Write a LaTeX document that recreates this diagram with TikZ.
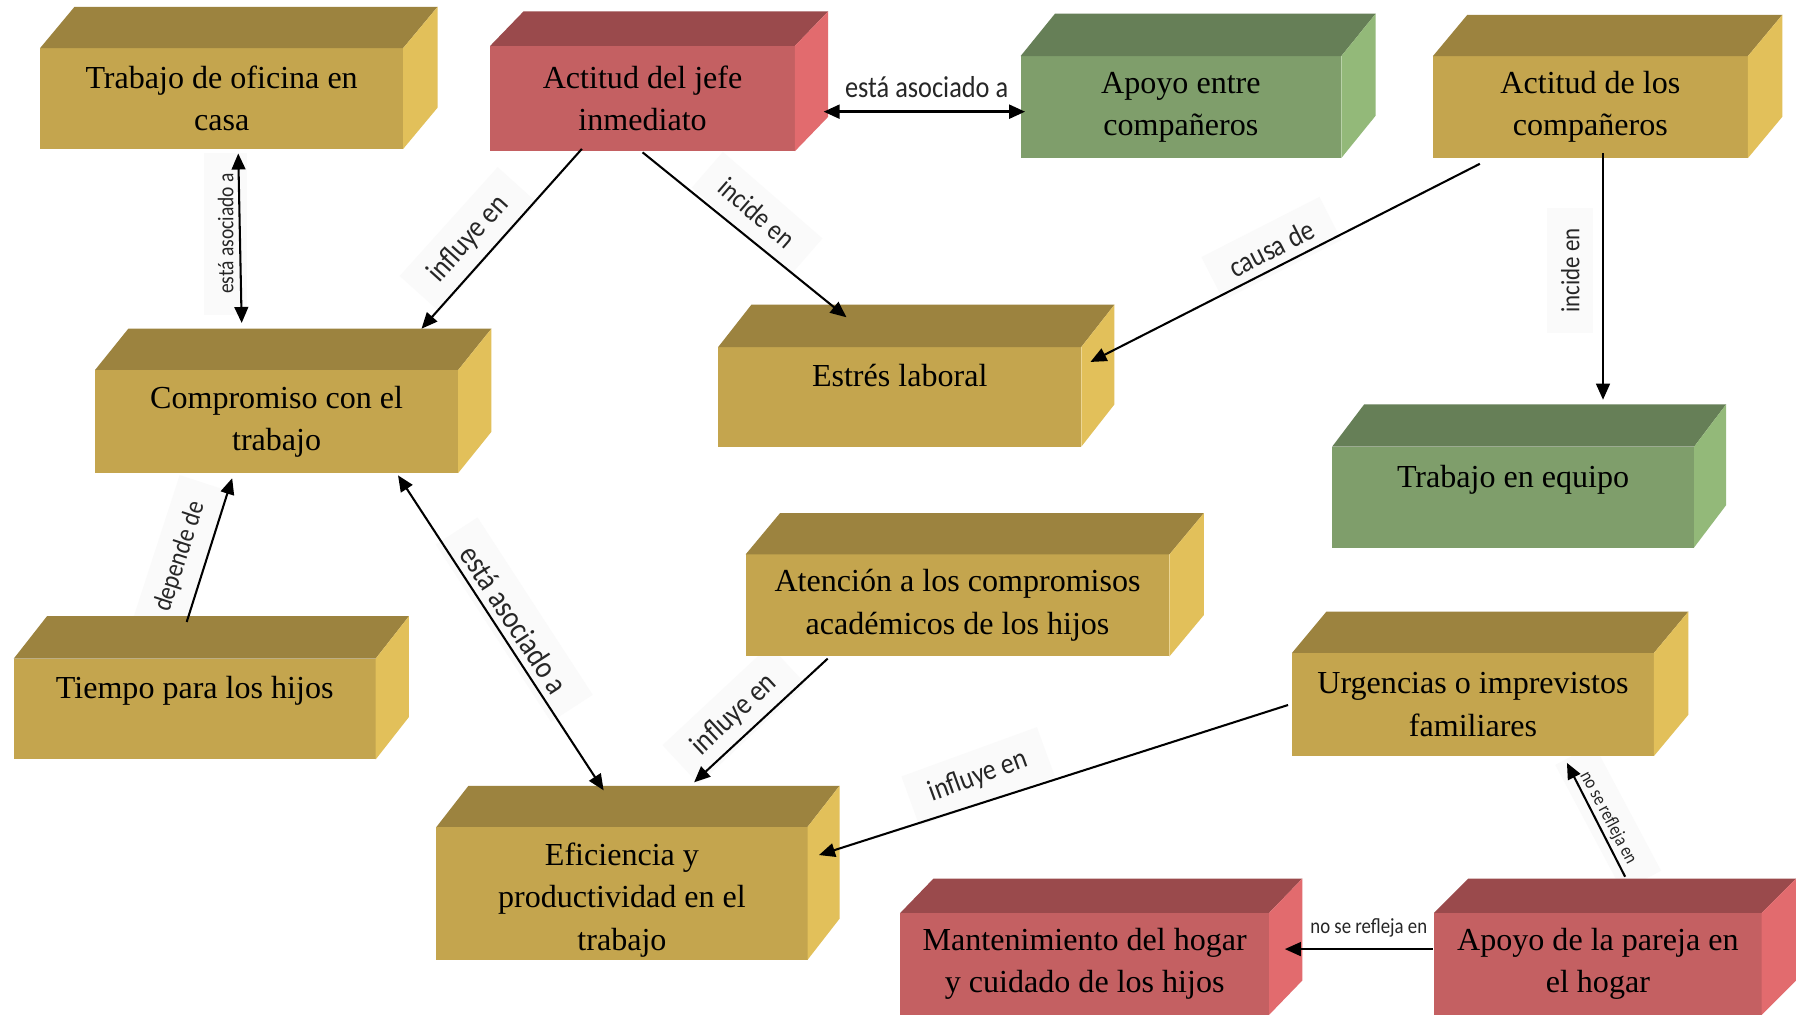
\documentclass[tikz,border=0pt]{standalone}
\usepackage{fontspec}
\setmainfont{Liberation Serif}
\newfontfamily\lblfont{Carlito}
\usepackage{graphicx}
\usetikzlibrary{arrows.meta,calc}
\definecolor{goldF}{HTML}{C4A54E}
\definecolor{goldT}{HTML}{9C833F}
\definecolor{goldS}{HTML}{E2C05A}
\definecolor{redF}{HTML}{C46062}
\definecolor{redT}{HTML}{9A4A4C}
\definecolor{redS}{HTML}{E26B6E}
\definecolor{greenF}{HTML}{7F9E6B}
\definecolor{greenT}{HTML}{667F57}
\definecolor{greenS}{HTML}{93B979}
\definecolor{lblbg}{HTML}{FAFAFA}
\newcommand\cubefaces[4]{%
  \fill[#2T] (#1.north west) -- ++(#3,-#4) -- ($(#1.north east)+(#3,-#4)$) -- (#1.north east) -- cycle;
  \fill[#2S] (#1.north east) -- ++(#3,-#4) -- ($(#1.south east)+(#3,-#4)$) -- (#1.south east) -- cycle;}
\newcommand\lt[2]{\fontsize{#1}{#1}\selectfont\scalebox{1}[1.15]{#2}}
\tikzset{
  face/.style={inner sep=0pt, outer sep=0pt, align=center, text=black,
    font=\fontsize{28}{37}\selectfont},
  goldbox/.style={face, fill=goldF},
  redbox/.style={face, fill=redF},
  greenbox/.style={face, fill=greenF},
  conn/.style={line width=1.8pt, -{Triangle[length=14pt,width=12pt]}},
  biconn/.style={line width=1.8pt, {Triangle[length=14pt,width=12pt]}-{Triangle[length=14pt,width=12pt]}},
  lbl/.style={inner xsep=18pt, inner ysep=12pt, fill=lblbg, text=black!85, font=\lblfont},
}
\begin{document}
\begin{tikzpicture}[x=1pt,y={(0,-1pt)}]
\useasboundingbox (0,0) rectangle (1568,886);
\fill[white] (0,0) rectangle (1568,886);
\begin{scope}
\clip (0,0) rectangle (1568,886);
% labels (drawn first, connectors pass over them)
\node[lbl, rotate=90] (la) at (197,204) {\lt{17}{está asociado a}};
\node[lbl, rotate=48] (lb) at (409,209) {\lt{23}{influye en}};
\node[lbl, rotate=-41] (lc) at (661,186) {\lt{21.5}{incide en}};
\node[lbl, fill=none] (ld) at (809,76) {\lt{23}{está asociado a}};
\node[lbl, rotate=27] (le) at (1110,217) {\lt{22.5}{causa de}};
\node[lbl, rotate=90] (lf) at (1371,236) {\lt{20}{incide en}};
\node[lbl, rotate=72] (lg) at (157,486) {\lt{20.5}{depende de}};
\node[lbl, rotate=-57] (lh) at (449,541) {\lt{24}{está asociado a}};
\node[lbl, rotate=43] (li) at (641,624) {\lt{23}{influye en}};
\node[lbl, rotate=20] (lj) at (854,678) {\lt{22.5}{influye en}};
\node[lbl, rotate=-62] (lk) at (1404,714) {\lt{14.3}{no se refleja en}};
\node[lbl, fill=none] (ll) at (1195,810) {\lt{16.4}{no se refleja en}};
% boxes
\node[goldbox, minimum width=317pt, minimum height=88pt] (oficina) at (193.5,86) {Trabajo de oficina en\\casa};
\cubefaces{oficina}{gold}{30}{36}
\node[redbox, minimum width=266pt, minimum height=92pt] (jefe) at (561,86) {Actitud del jefe\\inmediato};
\cubefaces{jefe}{red}{29}{30}
\node[greenbox, minimum width=280pt, minimum height=89pt] (apoyo) at (1031,93.5) {Apoyo entre\\compañeros};
\cubefaces{apoyo}{green}{30}{37}
\node[goldbox, minimum width=275pt, minimum height=89pt] (actcomp) at (1388.5,93.5) {Actitud de los\\compañeros};
\cubefaces{actcomp}{gold}{30}{36}
\node[goldbox, minimum width=317pt, minimum height=90pt] (compromiso) at (241.5,368) {Compromiso con el\\trabajo};
\cubefaces{compromiso}{gold}{29}{36}
\node[goldbox, minimum width=317pt, minimum height=87pt] (estres) at (785.5,346.5) {Estrés laboral\\\mbox{}};
\cubefaces{estres}{gold}{29}{37}
\node[greenbox, minimum width=316pt, minimum height=88pt] (equipo) at (1321,434) {Trabajo en equipo\\\mbox{}};
\cubefaces{equipo}{green}{28}{37}
\node[goldbox, minimum width=370pt, minimum height=89pt] (atencion) at (836,528.5) {Atención a los compromisos\\académicos de los hijos};
\cubefaces{atencion}{gold}{30}{36}
\node[goldbox, minimum width=316pt, minimum height=88pt] (tiempo) at (170,619) {Tiempo para los hijos\\\mbox{}};
\cubefaces{tiempo}{gold}{29}{37}
\node[goldbox, minimum width=324pt, minimum height=116pt] (eficiencia) at (543,780) {\raisebox{-5pt}[\height][\depth]{\begin{tabular}{@{}c@{}}Eficiencia y\\productividad en el\\trabajo\end{tabular}}};
\cubefaces{eficiencia}{gold}{28}{36}
\node[goldbox, minimum width=316pt, minimum height=90pt] (urgencias) at (1286,615) {Urgencias o imprevistos\\familiares};
\cubefaces{urgencias}{gold}{30}{36}
\node[redbox, minimum width=322pt, minimum height=89pt] (mantenimiento) at (947,841.5) {Mantenimiento del hogar\\y cuidado de los hijos};
\cubefaces{mantenimiento}{red}{29}{30}
\node[redbox, minimum width=286pt, minimum height=89pt] (pareja) at (1395,841.5) {Apoyo de la pareja en\\el hogar};
\cubefaces{pareja}{red}{30}{30}
% connectors
\draw[biconn] ($(oficina.south west)+(173,4)$) -- ($(compromiso.north west)+(128,-41)$);
\draw[conn] ($(jefe.south west)+(80,-2)$) -- ($(compromiso.north west)+(285,-36)$);
\draw[conn] ($(jefe.south west)+(133,1)$) -- ($(estres.north west)+(112,-26)$);
\draw[biconn, line width=2.5pt] ($(jefe.north east)+(25,57.5)$) -- ($(apoyo.north west)+(4,48.5)$);
\draw[conn] ($(actcomp.south west)+(41,5)$) -- ($(estres.north east)+(8,13)$);
\draw[conn] ($(actcomp.south west)+(148.5,-4)$) -- ($(equipo.north west)+(236.5,-41)$);
\draw[conn] ($(tiempo.north west)+(151,-32)$) -- ($(compromiso.south west)+(119.7,4.5)$);
\draw[biconn] ($(compromiso.south west)+(264.5,2)$) -- ($(eficiencia.north west)+(146,-32)$);
\draw[conn] ($(atencion.south west)+(71.6,2)$) -- ($(eficiencia.north west)+(225,-39)$);
\draw[conn] ($(urgencias.west)+(-3.5,0.5)$) -- ($(eficiencia.north east)+(10,24.5)$);
\draw[conn] ($(pareja.north west)+(166.8,-31.6)$) -- ($(urgencias.south west)+(240,6)$);
\draw[conn] ($(pareja.north west)+(-1,31.6)$) -- ($(mantenimiento.north east)+(13.7,31.6)$);
\end{scope}
\end{tikzpicture}
\end{document}
